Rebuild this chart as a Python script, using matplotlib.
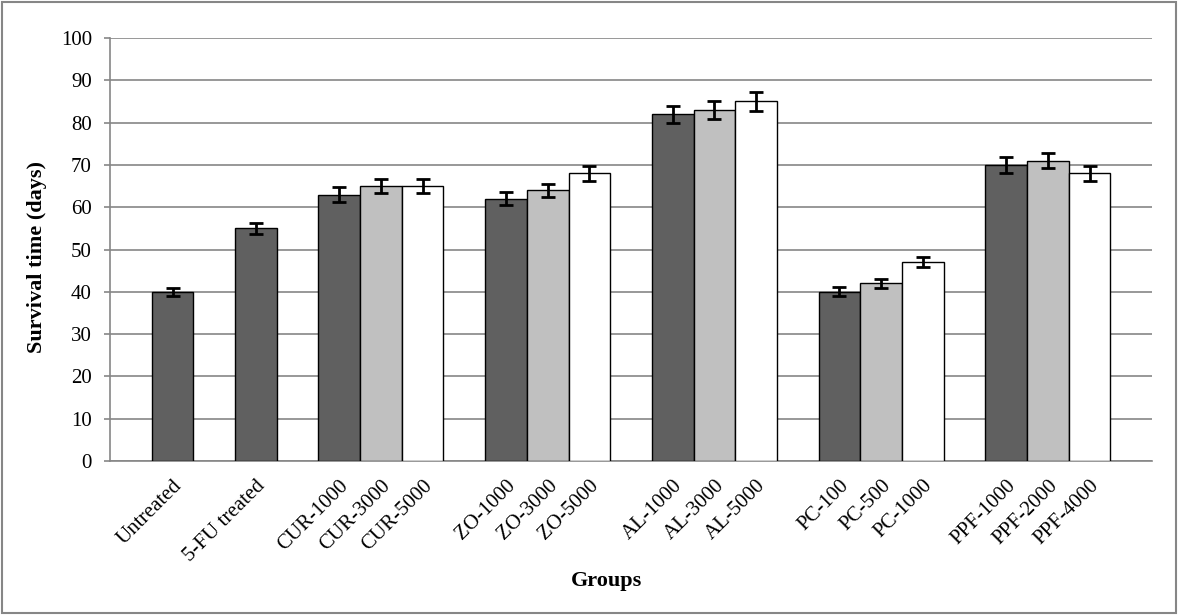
import matplotlib.pyplot as plt
from matplotlib.patches import Rectangle
import numpy as np

plt.rcParams['font.family'] = ['Liberation Serif', 'DejaVu Serif']

# one slot per bar, empty slots separate the groups
labels = ["Untreated", "5-FU treated",
          "CUR-1000", "CUR-3000", "CUR-5000",
          "ZO-1000", "ZO-3000", "ZO-5000",
          "AL-1000", "AL-3000", "AL-5000",
          "PC-100", "PC-500", "PC-1000",
          "PPF-1000", "PPF-2000", "PPF-4000"]
slots = [1, 3, 5, 6, 7, 9, 10, 11, 13, 14, 15, 17, 18, 19, 21, 22, 23]
values = [40, 55, 63, 65, 65, 62, 64, 68, 82, 83, 85, 40, 42, 47, 70, 71, 68]
errors = [1.0, 1.3, 1.7, 1.6, 1.6, 1.5, 1.6, 1.7, 2.0, 2.1, 2.2, 1.1, 1.1, 1.2, 1.8, 1.8, 1.7]
dose = [0, 0, 0, 1, 2, 0, 1, 2, 0, 1, 2, 0, 1, 2, 0, 1, 2]  # 0 low, 1 mid, 2 high

shades = ["#606060", "#c0c0c0", "#ffffff"]
colors = [shades[d] for d in dose]

fig = plt.figure(figsize=(11.78, 6.15), dpi=100)
ax = fig.add_axes([0.0934, 0.2504, 0.8846, 0.6878])

x = np.array(slots) + 0.5
ax.bar(x, values, width=1.0, color=colors, edgecolor="black", linewidth=1.0, zorder=3)
ax.errorbar(x, values, yerr=errors, fmt="none", ecolor="black", elinewidth=2,
            capsize=5, capthick=2, zorder=4)

ax.set_xlim(0, 25)
ax.set_ylim(0, 100)
ax.set_yticks(np.arange(0, 101, 10))
ax.yaxis.grid(True, color="#868686", linewidth=1.2, zorder=0)
ax.set_axisbelow(True)

ax.set_xticks(x)
ax.set_xticklabels(labels, rotation=45, ha="right", rotation_mode="anchor", fontsize=15)
ax.tick_params(axis="x", length=0, pad=11)
ax.tick_params(axis="y", labelsize=15, length=4, color="#868686", width=1.2, pad=9)

for side in ["top", "right"]:
    ax.spines[side].set_visible(False)
for side in ["left", "bottom"]:
    ax.spines[side].set_color("#868686")
    ax.spines[side].set_linewidth(1.2)

ax.set_ylabel("Survival time (days)", fontsize=16, fontweight="bold", va="center")
ax.yaxis.set_label_coords(-0.070, 0.482)
ax.set_xlabel("Groups", fontsize=16, fontweight="bold", va="center")
ax.xaxis.set_label_coords(0.476, -0.284)

# chart area border
fig.patches.append(Rectangle((0.002, 0.004), 0.996, 0.992, transform=fig.transFigure,
                             fill=False, edgecolor="#868686", linewidth=1.5))

fig.savefig("out.png", dpi=100)
